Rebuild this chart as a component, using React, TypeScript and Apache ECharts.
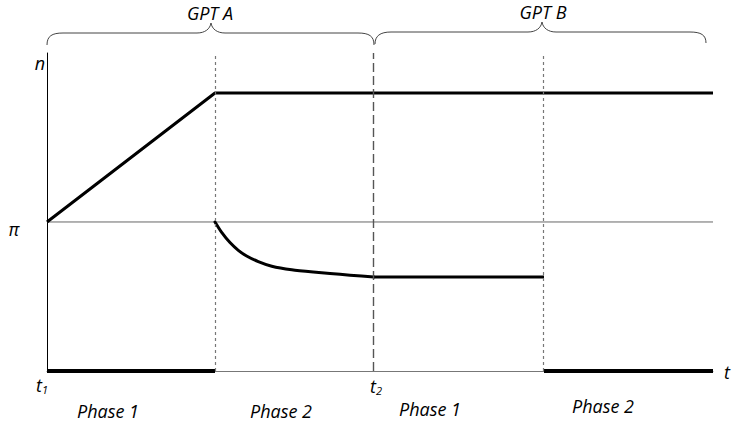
import React, { useEffect, useRef } from "react";
import * as echarts from "echarts";

// x domain: time (0..4), y domain: level (0 = bottom, 1 = π)
const phaseBounds = [0, 1.009, 1.964, 2.985, 4];
const piLevel = 1;
const yTop = 2.134;
const nLine = [[0, 1], [1.009, 1.866], [4, 1.866]];
const curveX = [1.009, 1.049, 1.099, 1.149, 1.199, 1.269, 1.35, 1.47, 1.599, 1.7, 1.82, 1.964];
const curveY = [1.0, 0.93, 0.862, 0.81, 0.772, 0.734, 0.703, 0.679, 0.664, 0.655, 0.643, 0.631];
const flatB = [[1.964, 0.631], [2.985, 0.631]];
const bottomA = [[0, 0], [1.009, 0]];
const bottomB = [[2.985, 0], [4, 0]];
const phaseLabels = ["Phase 1", "Phase 2", "Phase 1", "Phase 2"];
const gptLabels = ["GPT A", "GPT B"];

const FONT = "'Open Sans', 'Noto Sans', sans-serif";

const braceA =
  "M47,45 C47,36 52,33 63,33 L197,33 C205,33 210,29 211,23 C212,29 217,33 225,33 L358,33 C369,33 374,36 374,45";
const braceB =
  "M375,44 C375,36 380,32 391,32 L528,32 C536,32 541,28 542,22 C543,28 548,32 556,32 L690,32 C701,32 706,35 706,43";

echarts.graphic.registerShape("braceA", echarts.graphic.extendPath(braceA, {}));
echarts.graphic.registerShape("braceB", echarts.graphic.extendPath(braceB, {}));

export default function App() {
  const ref = useRef<HTMLDivElement>(null);
  useEffect(() => {
    if (!ref.current) return;
    const chart = echarts.init(ref.current, undefined, { renderer: "svg" });
    const txt = (text: string, x: number, y: number, extra: any = {}) => ({
      type: "text",
      x,
      y,
      style: {
        text,
        font: `italic 18px ${FONT}`,
        fill: "#000",
        textAlign: "center",
        textVerticalAlign: "middle",
        ...extra,
      },
    });
    chart.setOption({
      animation: false,
      grid: { left: 47, right: 23, top: 53, bottom: 52 },
      xAxis: {
        type: "value",
        min: phaseBounds[0],
        max: phaseBounds[4],
        axisLine: { show: true, lineStyle: { color: "#777", width: 1 } },
        axisTick: { show: false },
        axisLabel: { show: false },
        splitLine: { show: false },
      },
      yAxis: {
        type: "value",
        min: 0,
        max: yTop,
        axisLine: { show: true, lineStyle: { color: "#000", width: 1 } },
        axisTick: { show: false },
        axisLabel: { show: false },
        splitLine: { show: false },
      },
      series: [
        {
          type: "line",
          data: [[phaseBounds[0], piLevel], [phaseBounds[4], piLevel]],
          symbol: "none",
          lineStyle: { color: "#666", width: 1 },
          markLine: {
            symbol: "none",
            silent: true,
            label: { show: false },
            data: [
              { xAxis: phaseBounds[1], lineStyle: { color: "#777", type: [3, 3], width: 1.2 } },
              { xAxis: phaseBounds[2], lineStyle: { color: "#555", type: [9, 4], width: 1.4 } },
              { xAxis: phaseBounds[3], lineStyle: { color: "#777", type: [3, 3], width: 1.2 } },
            ],
          },
        },
        {
          type: "line",
          data: nLine,
          symbol: "none",
          lineStyle: { color: "#000", width: 3 },
        },
        {
          type: "line",
          data: curveX.map((x, i) => [x, curveY[i]]),
          symbol: "none",
          smooth: 0.2,
          lineStyle: { color: "#000", width: 3, join: "round", cap: "round" },
        },
        {
          type: "line",
          data: flatB,
          symbol: "none",
          lineStyle: { color: "#000", width: 3 },
        },
        {
          type: "line",
          data: bottomA,
          symbol: "none",
          lineStyle: { color: "#000", width: 4 },
        },
        {
          type: "line",
          data: bottomB,
          symbol: "none",
          lineStyle: { color: "#000", width: 4 },
        },
      ],
      graphic: [
        { type: "braceA", style: { stroke: "#444", lineWidth: 1, fill: "none" } },
        { type: "braceB", style: { stroke: "#444", lineWidth: 1, fill: "none" } },
        txt(gptLabels[0], 210, 13),
        txt(gptLabels[1], 543, 12),
        txt("n", 40, 63),
        txt("π", 14, 229),
        {
          type: "text",
          x: 36,
          y: 375,
          style: {
            text: "{a|t}{b|1}",
            rich: {
              a: { font: `italic 18px ${FONT}`, fill: "#000" },
              b: { font: `italic 11px ${FONT}`, fill: "#000", padding: [9, 0, 0, 0] },
            },
          },
        },
        {
          type: "text",
          x: 370,
          y: 376,
          style: {
            text: "{a|t}{b|2}",
            rich: {
              a: { font: `italic 18px ${FONT}`, fill: "#000" },
              b: { font: `italic 11px ${FONT}`, fill: "#000", padding: [9, 0, 0, 0] },
            },
          },
        },
        txt("t", 724, 372, { textAlign: "left" }),
        txt(phaseLabels[0], 108, 411),
        txt(phaseLabels[1], 281, 411),
        txt(phaseLabels[2], 430, 409),
        txt(phaseLabels[3], 603, 406),
      ],
    });
    return () => chart.dispose();
  }, []);
  return <div ref={ref} style={{ width: 736, height: 423, position: "absolute", left: 0, top: 0 }} />;
}
